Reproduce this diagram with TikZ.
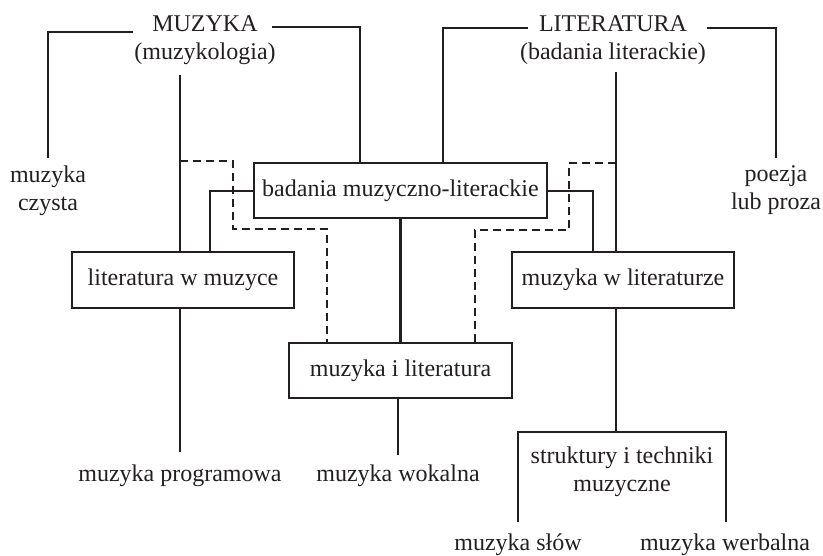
\documentclass[tikz,border=0pt]{standalone}
\usepackage{fontspec}
\setmainfont{Liberation Serif}
\definecolor{ink}{RGB}{35,31,32}
\begin{document}
\begin{tikzpicture}[x=1pt,y=-1pt,
  every node/.style={text=ink, font=\fontsize{24}{28}\selectfont},
  conn/.style={draw=ink, line width=2.9pt},
  dconn/.style={conn, dash pattern=on 8pt off 5pt},
  boxnode/.style={draw=ink, line width=2.9pt, inner sep=0pt, minimum height=55pt},
  lbl/.style={align=center, inner sep=0pt}]
\useasboundingbox (0,0) rectangle (823,556);
% text labels
\node[lbl] (muz) at (205,40) {MUZYKA\\(muzykologia)};
\node[lbl] (lit) at (613,40) {LITERATURA\\(badania literackie)};
\node[lbl] (czy) at (48,190.5) {muzyka\\czysta};
\node[lbl] (poe) at (776,190.5) {poezja\\lub proza};
\node[lbl] (str) at (622,471.5) {struktury i techniki\\muzyczne};
\node[inner sep=0pt, anchor=base] (prog) at (180,481) {muzyka programowa};
\node[inner sep=0pt, anchor=base] (wok) at (398,481) {muzyka wokalna};
\node[inner sep=0pt, anchor=base] (slow) at (518,550) {muzyka słów};
\node[inner sep=0pt, anchor=base] (werb) at (725,550) {muzyka werbalna};
% boxes
\node[boxnode, minimum width=293pt] (bad) at (400.5,190.5) {badania muzyczno-literackie};
\node[boxnode, minimum width=222pt, minimum height=56pt] (lwm) at (183,280) {literatura w muzyce};
\node[boxnode, minimum width=222pt, minimum height=56pt] (mwl) at (623,280) {muzyka w literaturze};
\node[boxnode, minimum width=223pt] (mil) at (400.5,370.5) {muzyka i literatura};
% free ends
\coordinate (a1) at (133,32); \coordinate (a2) at (48,32); \coordinate (a3) at (48,158);
\coordinate (b1) at (272,27); \coordinate (b2) at (360,27);
\coordinate (c1) at (180,75);
\coordinate (d1) at (180,161); \coordinate (d2) at (233,161); \coordinate (d3) at (233,229); \coordinate (d4) at (327,229);
\coordinate (e1) at (210,191);
\coordinate (f1) at (180,452);
\coordinate (g1) at (398,455);
\coordinate (h1) at (528,28); \coordinate (h2) at (443,28);
\coordinate (i1) at (707,28); \coordinate (i2) at (776,28); \coordinate (i3) at (776,158);
\coordinate (j1) at (616,72);
\coordinate (k1) at (616,163); \coordinate (k2) at (569,163); \coordinate (k3) at (569,230); \coordinate (k4) at (475,230);
\coordinate (l1) at (593,191);
\coordinate (m1) at (616,432);
\coordinate (s1) at (518,522); \coordinate (s2) at (518,432); \coordinate (s3) at (726,432); \coordinate (s4) at (726,522);
% connectors
\draw[conn] (a1) -- (a2) -- (a3);
\draw[conn] (b1) -- (b2) -- (b2 |- bad.north);
\draw[conn] (c1) -- (c1 |- lwm.north);
\draw[dconn] (d1) -- (d2) -- (d3) -- (d4) -- (d4 |- mil.north);
\draw[conn] (bad.west |- e1) -- (e1) -- (e1 |- lwm.north);
\draw[conn] (c1 |- lwm.south) -- (f1);
\draw[conn] (bad.south) -- (mil.north);
\draw[conn] (g1 |- mil.south) -- (g1);
\draw[conn] (h1) -- (h2) -- (h2 |- bad.north);
\draw[conn] (i1) -- (i2) -- (i3);
\draw[conn] (j1) -- (j1 |- mwl.north);
\draw[dconn] (k1) -- (k2) -- (k3) -- (k4) -- (k4 |- mil.north);
\draw[conn] (bad.east |- l1) -- (l1) -- (l1 |- mwl.north);
\draw[conn] (m1 |- mwl.south) -- (m1);
\draw[conn] (s1) -- (s2) -- (s3) -- (s4);
\end{tikzpicture}
\end{document}
